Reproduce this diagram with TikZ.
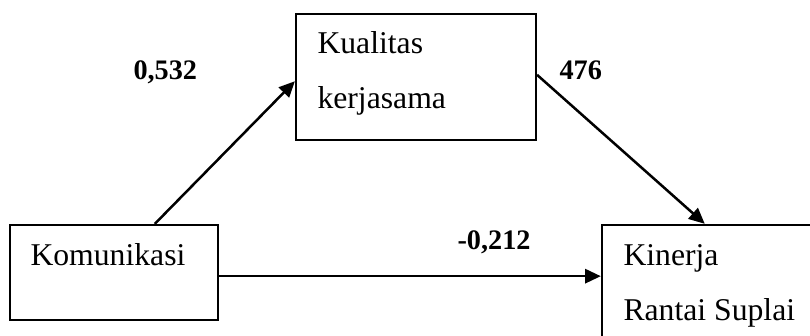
\documentclass[tikz,border=0pt]{standalone}
\usepackage{fontspec}
\setmainfont{Liberation Serif}
\usetikzlibrary{arrows.meta}
\begin{document}
\begin{tikzpicture}[x=0.3788pt, y=-0.3788pt,
  varbox/.style={draw, line width=0.85pt, inner sep=0pt, rectangle},
  lbl/.style={anchor=base west, inner sep=0pt, font=\fontsize{12}{14}\selectfont},
  coef/.style={anchor=base west, inner sep=0pt, font=\fontsize{10.7}{13}\selectfont\bfseries},
  path/.style={line width=0.95pt, -{Triangle[length=6pt, width=5.4pt]}}]
\useasboundingbox (0,0) rectangle (810,336);
\clip (0,0) rectangle (810,336);

% variable boxes
\node[varbox, minimum width=78.8pt, minimum height=36pt] (kom) at (114,272.5) {};
\node[varbox, minimum width=90.9pt, minimum height=47.7pt] (kua) at (416,77) {};
\node[varbox, minimum width=86.4pt, minimum height=47.4pt] (kin) at (716,287.5) {};

% box texts
\node[lbl] (tkom) at (30,265) {Komunikasi};
\node[lbl] (tkua1) at (317,54) {Kualitas};
\node[lbl] (tkua2) at (317,109) {kerjasama};
\node[lbl] (tkin1) at (623,265) {Kinerja};
\node[lbl] (tkin2) at (623,320) {Rantai Suplai};

% paths
\draw[path] (kom.50.6) -- (kua.182.4);
\draw[path] (kua.1.9) -- (kin.100);
\draw[path] (kom.-2.5) -- (kom.-2.5 -| kin.west);

% coefficients
\node[coef] (c1) at (133,80) {0,532};
\node[coef] (c2) at (559,80) {476};
\node[coef] (c3) at (457,249) {-0,212};
\end{tikzpicture}
\end{document}
